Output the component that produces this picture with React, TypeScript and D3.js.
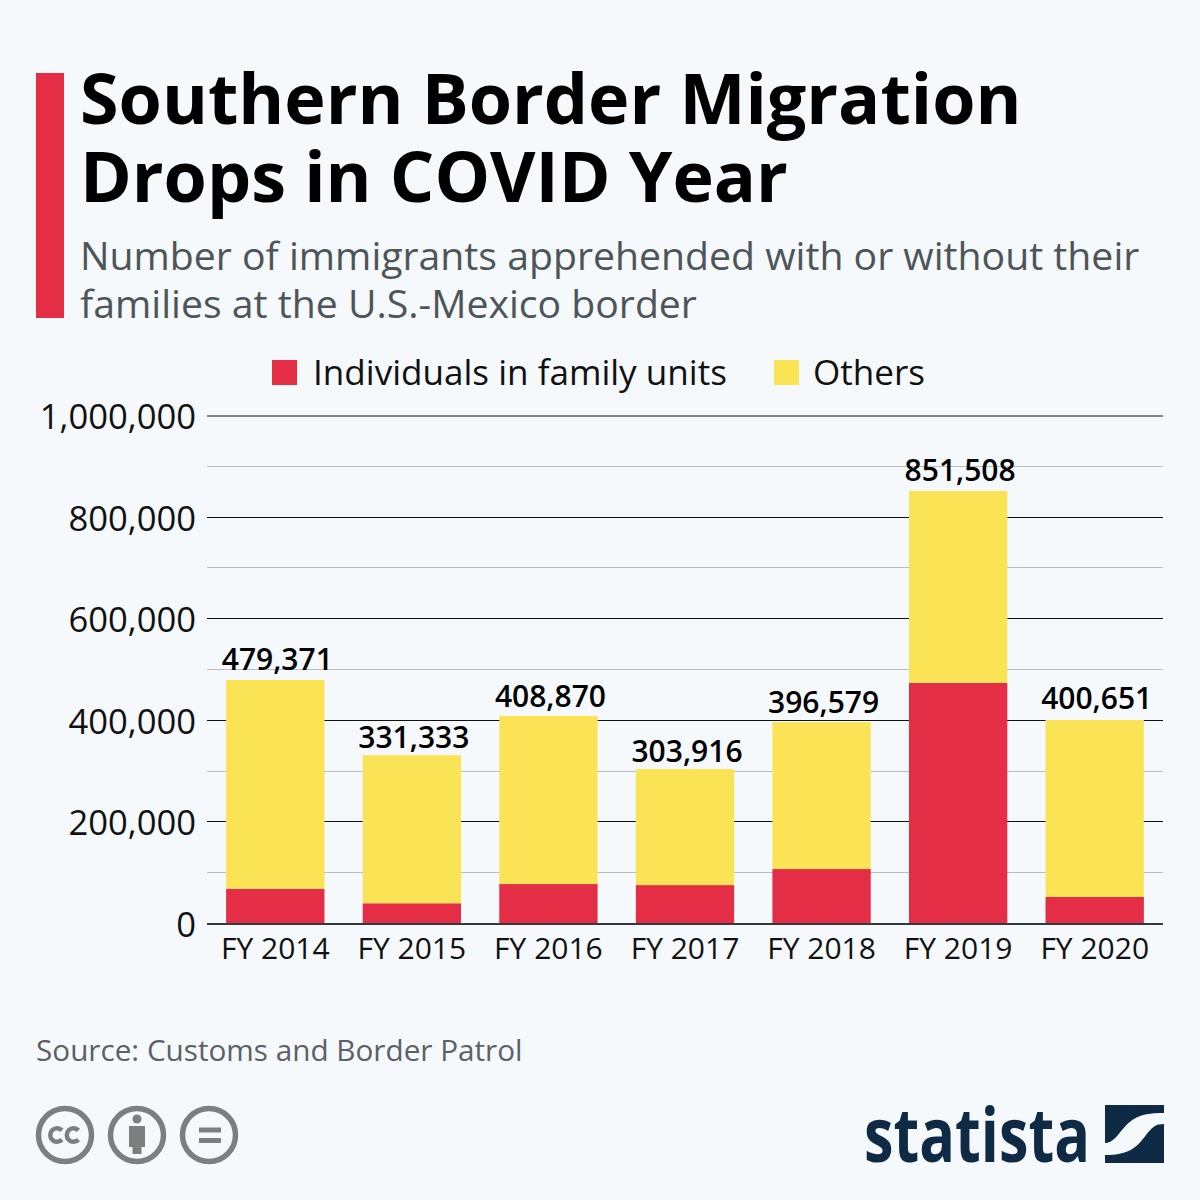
import React from "react";
import * as d3 from "d3";

const categories = ["FY 2014", "FY 2015", "FY 2016", "FY 2017", "FY 2018", "FY 2019", "FY 2020"];
const familyUnits = [68445, 39838, 77674, 75622, 107212, 473682, 52230];
const totals = [479371, 331333, 408870, 303916, 396579, 851508, 400651];
const labelNudge = [0, 3, 1, 3, 1, 0, -1];
const majorTicks = [0, 200000, 400000, 600000, 800000, 1000000];
const minorTicks = [100000, 300000, 500000, 700000, 900000];
const titleLines = ["Southern Border Migration", "Drops in COVID Year"];
const subtitleLines = ["Number of immigrants apprehended with or without their", "families at the U.S.-Mexico border"];
const seriesNames = ["Individuals in family units", "Others"];
const RED = "#e32e46";
const YELLOW = "#fbe356";
const FONT = "'Open Sans', sans-serif";

export default function App() {
  const x = d3.scaleBand<string>().domain(categories).range([207, 1163]).paddingInner(0.28).paddingOuter(0.14);
  const y = d3.scaleLinear().domain([0, 1000000]).range([923.5, 415.5]);
  const grid = (v: number) => Math.floor(y(v)) + 0.5;
  const fmt = d3.format(",");
  const rows = categories.map((c, i) => ({ c, family: familyUnits[i], others: totals[i] - familyUnits[i] }));
  const stacked = d3.stack<any>().keys(["family", "others"])(rows);
  const colors = [RED, YELLOW];
  const cShape = d3.arc()({ innerRadius: 4.5, outerRadius: 9, startAngle: Math.PI / 2 + 0.75, endAngle: Math.PI * 2.5 - 0.75 } as any) as string;
  return (
    <svg width={1200} height={1200} viewBox="0 0 1200 1200" style={{ position: "absolute", left: 0, top: 0, background: "#f5f9fc" }} fontFamily={FONT}>
      <rect x={0} y={0} width={1200} height={1200} fill="#f5f9fc" />
      <rect x={36} y={73} width={28} height={245} fill={RED} />
      {titleLines.map((t, i) => (
        <text key={t} x={80} y={124 + i * 78} fontSize={70} fontWeight={700} fill="#000">{t}</text>
      ))}
      {subtitleLines.map((t, i) => (
        <text key={t} x={80} y={270 + i * 48} fontSize={39.2} fill="#4e5558">{t}</text>
      ))}
      <rect x={272} y={360} width={25} height={25} fill={RED} />
      <text x={313} y={385} fontSize={35.1} fill="#111">{seriesNames[0]}</text>
      <rect x={774} y={360} width={25} height={25} fill={YELLOW} />
      <text x={813} y={385} fontSize={35.1} fill="#111">{seriesNames[1]}</text>

      {minorTicks.map((t) => (
        <line key={t} x1={207} x2={1163} y1={grid(t)} y2={grid(t)} stroke="#b9bdc0" strokeWidth={1} />
      ))}
      {majorTicks.filter((t) => t > 0).map((t) => (
        <line key={t} x1={207} x2={1163} y1={t === 1000000 ? 416 : grid(t)} y2={t === 1000000 ? 416 : grid(t)} stroke="#111" strokeWidth={1} />
      ))}
      {majorTicks.map((t) => (
        <text key={t} x={196} y={y(t) + 13.5} textAnchor="end" fontSize={34.6} fill="#111">{fmt(t)}</text>
      ))}
      {stacked.map((s, si) =>
        s.map((d, i) => (
          <rect key={si + "-" + i} x={x(categories[i])} width={x.bandwidth()} y={y(d[1])} height={y(d[0]) - y(d[1])} fill={colors[si]} />
        ))
      )}
      <line x1={207} x2={1163} y1={924} y2={924} stroke="#333a3d" strokeWidth={2} />
      {categories.map((c) => (
        <text key={c} x={x(c)! + x.bandwidth() / 2} y={959} textAnchor="middle" fontSize={30} fill="#111">{c}</text>
      ))}
      {totals.map((t, i) => (
        <text key={i} x={x(categories[i])! + x.bandwidth() / 2 + 2} y={y(t) - 10 + labelNudge[i]} textAnchor="middle" fontSize={30} fontWeight={600} fill="#000">{fmt(t)}</text>
      ))}
      <text x={36} y={1061} fontSize={29.7} fill="#5b6164">Source: Customs and Border Patrol</text>

      <g fill="none" stroke="#7b807e" strokeWidth={5.5}>
        <circle cx={65} cy={1135} r={26.5} />
        <circle cx={137} cy={1135} r={26.5} />
        <circle cx={209} cy={1135} r={26.5} />
      </g>
      <g fill="#7b807e">
        <path d={cShape} transform="translate(57,1135)" />
        <path d={cShape} transform="translate(73.5,1135)" />
        <circle cx={137} cy={1119} r={4.5} />
        <rect x={129} y={1126} width={16} height={21} />
        <rect x={132.5} y={1140} width={9} height={14} />
        <rect x={199} y={1127.5} width={22} height={5} />
        <rect x={199} y={1138} width={22} height={5} />
      </g>

      <text x={864} y={1162} fontSize={76} fontWeight={700} fill="#0f2a45" textLength={226} lengthAdjust="spacingAndGlyphs">statista</text>
      <path fill="#0f2a45" d="M1105 1105H1164V1113C1136 1113 1130 1120 1118 1135C1112 1142 1108 1143 1105 1143Z" />
      <path fill="#0f2a45" d="M1164 1124V1163H1105V1155C1130 1155 1137 1147 1146 1135C1152 1127 1156 1124 1164 1124Z" />
    </svg>
  );
}
